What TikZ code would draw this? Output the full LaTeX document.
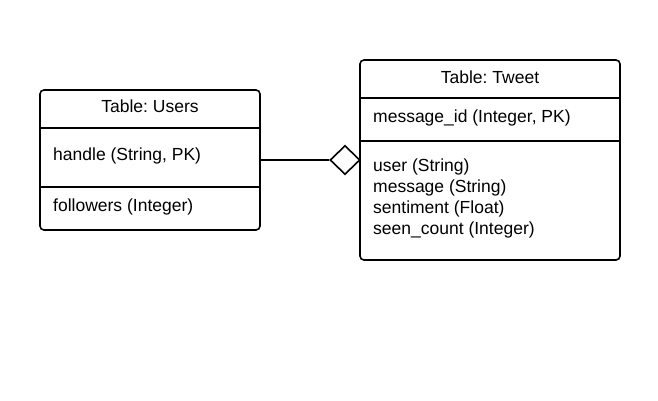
\documentclass[tikz,border=0pt]{standalone}
\usepackage{fontspec}
\setmainfont{Liberation Sans}
\frenchspacing
\usetikzlibrary{shapes.geometric}
\tikzset{
  tablebox/.style={draw, line width=1.6pt, rounded corners=4pt, inner sep=0pt},
  rowtext/.style={anchor=west, inner sep=0pt, font=\fontsize{17.5}{21}\selectfont},
  headtext/.style={inner sep=0pt, font=\fontsize{17.5}{21}\selectfont},
  divider/.style={line width=1.6pt},
  keydiamond/.style={draw, diamond, line width=1.6pt, fill=white, inner sep=0pt,
    minimum width=30pt, minimum height=29pt}
}
\begin{document}
\begin{tikzpicture}[x=1pt,y=-1pt]
\useasboundingbox (0,0) rectangle (658,400);

\node[tablebox, minimum width=220pt, minimum height=140pt] (users) at (150,160) {};
\draw[divider] (40,128) -- (260,128);
\draw[divider] (40,187) -- (260,187);
\node[headtext] (usershead) at (150,106) {Table: Users};
\node[rowtext] (handle) at (53,156) {handle (String, PK)};
\node[rowtext] (followers) at (53,207) {followers (Integer)};

\node[tablebox, minimum width=260pt, minimum height=200pt] (tweet) at (490,160) {};
\draw[divider] (360,98) -- (620,98);
\draw[divider] (360,141) -- (620,141);
\node[headtext] (tweethead) at (490,77) {Table: Tweet};
\node[rowtext] (msgid) at (373,118) {message\_id (Integer, PK)};
\foreach \name/\y/\txt in {user/165/user (String), message/186/message (String),
    sentiment/207/sentiment (Float), seencount/228/seen\_count (Integer)}
  \node[rowtext, anchor=base west] (\name) at (373,\y+6) {\txt};

\node[keydiamond] (key) at (345,160) {};
\draw[line width=1.6pt] (users.east) -- (key.west);
\end{tikzpicture}
\end{document}
